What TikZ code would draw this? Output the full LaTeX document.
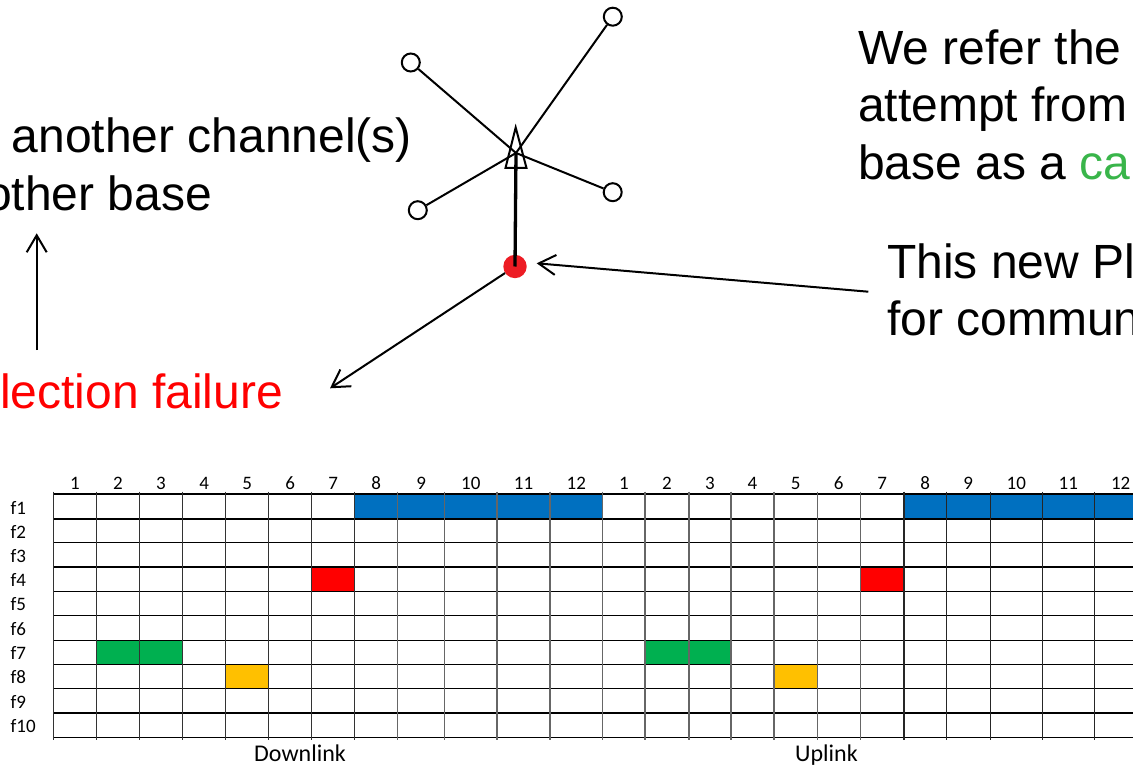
\documentclass[tikz,border=0pt]{standalone}
\usepackage{fontspec}
\setmainfont{Liberation Sans}
\newfontfamily\gridfont{Carlito}
\usetikzlibrary{arrows.meta}
\definecolor{cellblue}{HTML}{0070C0}
\definecolor{cellred}{HTML}{FF0000}
\definecolor{cellgreen}{HTML}{00B050}
\definecolor{cellyellow}{HTML}{FFC000}
\definecolor{dotred}{HTML}{ED1C24}
\definecolor{callgreen}{HTML}{39B54A}
\definecolor{failred}{HTML}{FF0000}
\tikzset{
  slidetext/.style={font=\fontsize{48}{57}\selectfont, inner sep=0pt, anchor=base west},
  gridlabel/.style={font=\gridfont\fontsize{19}{22}\selectfont, inner sep=0pt, anchor=base},
  linklabel/.style={font=\gridfont\fontsize{24}{28}\selectfont, inner sep=0pt, anchor=base},
  pointer/.style={line width=2pt, -{Straight Barb[length=17pt,width=20pt,line width=2pt]}},
  spoke/.style={line width=2pt},
  handset/.style={circle, draw, line width=2pt, minimum size=18pt, inner sep=0pt, fill=white},
  hline/.style={line width=1.1pt, black},
  vline/.style={line width=1.3pt, black!60},
}
\begin{document}
\begin{tikzpicture}[x=1pt,y=-1pt]
\useasboundingbox (0,0) rectangle (1133,765);
\clip (0,0) rectangle (1133,765);

% ---------- base station and handsets ----------
\coordinate (hub) at (516,153);
\node[handset] (ms1) at (410.8,62.5) {};
\node[handset] (ms2) at (612.8,16.7) {};
\node[handset] (ms3) at (417.8,210.2) {};
\node[handset] (ms4) at (612.7,192.2) {};
\draw[spoke] (ms1) -- (hub);
\draw[spoke] (ms2) -- (hub);
\draw[spoke] (ms3) -- (hub);
\draw[spoke] (ms4) -- (hub);
\draw[line width=2pt, line join=miter] (515.7,127.5) -- (526.5,168) -- (505.5,168) -- cycle;
\node[circle, fill=dotred, minimum size=23.4pt, inner sep=0pt] (dot) at (515,266.5) {};
\draw[line width=3.3pt] (hub) -- (dot.center);

% ---------- slide texts ----------
\node[slidetext] (chan1) at (11.6,153) {another channel(s)};
\node[slidetext] (chan2) at (-15,210) {other base};
\node[slidetext, text=failred] (fail) at (0,408) {lection failure};
\node[slidetext] (refer1) at (858,65) {We refer the};
\node[slidetext] (refer2) at (858,122) {attempt from};
\node[slidetext] (refer3) at (858,179) {base as a \textcolor{callgreen}{cal}};
\node[slidetext] (pnew1) at (887,278.3) {This new Pl};
\node[slidetext] (pnew2) at (887,335) {for commun};

% ---------- pointers ----------
\coordinate (uptail) at (36.7,350);
\coordinate (uptip) at (36.7,233.3);
\draw[pointer] (uptail) -- (uptip);
\coordinate (pnewtail) at (868.3,291.7);
\coordinate (dottip) at (536.7,263.3);
\draw[pointer] (pnewtail) -- (dottip);
\coordinate (failtip) at (330,388.3);
\draw[pointer] (dot) -- (failtip);

% ---------- channel grid ----------
% occupied slots
\fill[cellblue] (354.7,494) rectangle (602.7,519);
\fill[cellblue] (904,494) rectangle (1147,519);
\fill[cellred] (311.7,567) rectangle (354.7,591.3);
\fill[cellred] (860.3,567) rectangle (904,591.3);
\fill[cellgreen] (96.7,640.3) rectangle (182.7,664.3);
\fill[cellgreen] (645,640.3) rectangle (731,664.3);
\fill[cellyellow] (225.7,664.3) rectangle (268.7,688.5);
\fill[cellyellow] (774,664.3) rectangle (817.3,688.5);

% rows
\foreach \y in {494,542.5,567,591.3,615.5,640.3,664.3,688.5,713,737.3}
  \draw[hline] (53.3,\y) -- (1147,\y);
\draw[line width=2.4pt] (53.3,519) -- (1147,519);

% columns
\foreach \x in {53.3,96.7,139.3,182.7,225.7,268.7,311.7,354.7}
  \draw[vline, black!80] (\x,491.5) -- (\x,739.5);
\foreach \x in {397.7,444.7,497,550,602.7,645,689,731,774,817.3,860.3}
  \draw[vline] (\x,491.5) -- (\x,739.5);
\foreach \x in {904,946.3,990.3,1042.3,1094.3}
  \draw[vline, black!85] (\x,491.5) -- (\x,739.5);

% slot numbers
\foreach \a/\b/\n [count=\k] in {53.3/96.7/1,96.7/139.3/2,139.3/182.7/3,182.7/225.7/4,
    225.7/268.7/5,268.7/311.7/6,311.7/354.7/7,354.7/397.7/8,397.7/444.7/9,
    444.7/497/10,497/550/11,550/602.7/12,602.7/645/1,645/689/2,689/731/3,
    731/774/4,774/817.3/5,817.3/860.3/6,860.3/904/7,904/946.3/8,946.3/990.3/9,
    990.3/1042.3/10,1042.3/1094.3/11,1094.3/1147/12}
  \node[gridlabel] (slot\k) at ({(\a+\b)/2},489) {\n};

% carrier labels
\foreach \y/\n in {506.5/1,530.75/2,554.75/3,579.15/4,603.4/5,627.9/6,652.3/7,676.4/8,700.75/9,725.15/10}
  \node[gridlabel, anchor=base west] (freq\n) at (10.5,\y+7.5) {f\n};

\node[linklabel] (dl) at (300,761) {Downlink};
\node[linklabel] (ul) at (826.5,761) {Uplink};
\end{tikzpicture}
\end{document}
